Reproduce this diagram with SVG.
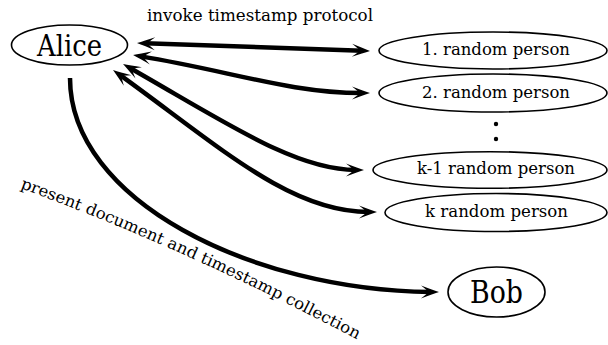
<svg xmlns="http://www.w3.org/2000/svg" width="608" height="345" viewBox="0 0 608 345">
<style>
  .node { fill: #fff; stroke: #000; stroke-width: 1.6; }
  .big { font-family: 'DejaVu Serif', 'Liberation Serif', serif; fill: #000; text-anchor: middle; }
  .lbl { font-family: 'DejaVu Serif', 'Liberation Serif', serif; font-size: 16px; fill: #000; }
  .edge { fill: none; stroke: #000; stroke-width: 4.5; }
</style>
<defs>
  <marker id="ah" markerUnits="userSpaceOnUse" viewBox="-12 -9 22 18" markerWidth="22" markerHeight="18" refX="0" refY="0" orient="auto-start-reverse">
    <path d="M8,0 Q1,-2.4 -10,-6.5 Q-3,-1 -2,0 Q-3,1 -10,6.5 Q1,2.4 8,0 Z" fill="#000"/>
  </marker>
</defs>

<g id="connectors">
  <path class="edge" d="M145,43.3 L362,50.7" marker-start="url(#ah)" marker-end="url(#ah)"/>
  <path class="edge" d="M141,56.4 C230,71 290,93 362,93" marker-start="url(#ah)" marker-end="url(#ah)"/>
  <path class="edge" d="M130,68 C225,122 295,170 356,170" marker-start="url(#ah)" marker-end="url(#ah)"/>
  <path class="edge" d="M119.5,74.6 C220,147 290,212 369,212" marker-start="url(#ah)" marker-end="url(#ah)"/>
  <path class="edge" d="M70,78 C70,200 250,290 431,292" marker-end="url(#ah)"/>
  <path id="bobLabelPath" d="M20,188 Q185,248 358,340" fill="none" stroke="none"/>
  <text class="lbl" x="147" y="21" textLength="226" lengthAdjust="spacingAndGlyphs">invoke timestamp protocol</text>
  <text class="lbl"><textPath href="#bobLabelPath" textLength="370" lengthAdjust="spacingAndGlyphs">present document and timestamp collection</textPath></text>
</g>

<g id="alice">
  <ellipse class="node" cx="69.5" cy="45" rx="58" ry="20"/>
  <text class="big" x="69.5" y="56" font-size="29" textLength="65" lengthAdjust="spacingAndGlyphs">Alice</text>
</g>
<g id="person1">
  <ellipse class="node" cx="493" cy="50.5" rx="114" ry="18.5"/>
  <text class="lbl" x="422" y="55" textLength="148" lengthAdjust="spacingAndGlyphs">1. random person</text>
</g>
<g id="person2">
  <ellipse class="node" cx="493" cy="93" rx="114" ry="19"/>
  <text class="lbl" x="422" y="98" textLength="148" lengthAdjust="spacingAndGlyphs">2. random person</text>
</g>
<g id="dots">
  <circle cx="496" cy="124" r="2.2" fill="#000"/>
  <circle cx="496" cy="139" r="2.2" fill="#000"/>
</g>
<g id="personk1">
  <ellipse class="node" cx="490" cy="170" rx="117" ry="18.3"/>
  <text class="lbl" x="417" y="174" textLength="158" lengthAdjust="spacingAndGlyphs">k-1 random person</text>
</g>
<g id="personk">
  <ellipse class="node" cx="496" cy="212.5" rx="111" ry="19"/>
  <text class="lbl" x="425" y="217" textLength="143" lengthAdjust="spacingAndGlyphs">k random person</text>
</g>
<g id="bob">
  <ellipse class="node" cx="496.5" cy="292" rx="48.5" ry="25"/>
  <text class="big" x="496.5" y="303" font-size="31" textLength="53" lengthAdjust="spacingAndGlyphs">Bob</text>
</g>
</svg>
